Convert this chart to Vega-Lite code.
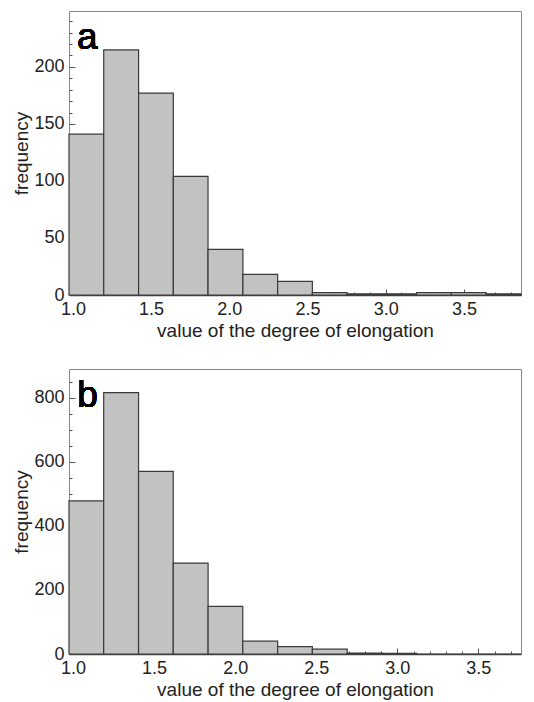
{
  "$schema": "https://vega.github.io/schema/vega-lite/v6.json",
  "padding": {"left": 12, "top": 10, "right": 5, "bottom": 5},
  "background": "white",
  "data": {"values": [
    {"panel": "a", "start": 0.975, "end": 1.197, "count": 141},
    {"panel": "a", "start": 1.197, "end": 1.420, "count": 215},
    {"panel": "a", "start": 1.420, "end": 1.642, "count": 177},
    {"panel": "a", "start": 1.642, "end": 1.864, "count": 104},
    {"panel": "a", "start": 1.864, "end": 2.087, "count": 40},
    {"panel": "a", "start": 2.087, "end": 2.309, "count": 18},
    {"panel": "a", "start": 2.309, "end": 2.531, "count": 12},
    {"panel": "a", "start": 2.531, "end": 2.753, "count": 2},
    {"panel": "a", "start": 2.753, "end": 2.976, "count": 1},
    {"panel": "a", "start": 2.976, "end": 3.198, "count": 1},
    {"panel": "a", "start": 3.198, "end": 3.420, "count": 2},
    {"panel": "a", "start": 3.420, "end": 3.642, "count": 2},
    {"panel": "a", "start": 3.642, "end": 3.865, "count": 1},
    {"panel": "b", "start": 0.975, "end": 1.189, "count": 478},
    {"panel": "b", "start": 1.189, "end": 1.404, "count": 816},
    {"panel": "b", "start": 1.404, "end": 1.618, "count": 570},
    {"panel": "b", "start": 1.618, "end": 1.833, "count": 284},
    {"panel": "b", "start": 1.833, "end": 2.047, "count": 149},
    {"panel": "b", "start": 2.047, "end": 2.262, "count": 40},
    {"panel": "b", "start": 2.262, "end": 2.476, "count": 23},
    {"panel": "b", "start": 2.476, "end": 2.691, "count": 15},
    {"panel": "b", "start": 2.691, "end": 2.905, "count": 3},
    {"panel": "b", "start": 2.905, "end": 3.120, "count": 2},
    {"panel": "b", "start": 3.120, "end": 3.334, "count": 0},
    {"panel": "b", "start": 3.334, "end": 3.549, "count": 0},
    {"panel": "b", "start": 3.549, "end": 3.763, "count": 0}
  ]},
  "config": {
    "view": {"stroke": "#888888", "strokeWidth": 1},
    "font": "Liberation Sans",
    "axis": {
      "grid": false,
      "zindex": 1,
      "labelFont": "Liberation Sans",
      "labelFontSize": 18,
      "labelColor": "#222222",
      "titleFont": "Liberation Sans",
      "titleFontSize": 19,
      "titleFontWeight": "normal",
      "titleColor": "#222222",
      "tickSize": -6,
      "tickColor": "#555555",
      "domainColor": "#444444"
    },
    "concat": {"spacing": 27}
  },
  "vconcat": [
    {
      "width": 452,
      "height": 284,
      "transform": [{"filter": "datum.panel === 'a'"}],
      "resolve": {"axis": {"x": "independent", "y": "independent"}},
      "layer": [
        {
          "mark": {"type": "bar", "fill": "#c2c2c2", "stroke": "#3a3a3a", "strokeWidth": 1.2},
          "encoding": {
            "x": {"field": "start", "type": "quantitative",
                  "scale": {"domain": [0.975, 3.865], "nice": false, "zero": false},
                  "axis": {"values": [1, 1.5, 2, 2.5, 3, 3.5], "format": ".1f", "title": "value of the degree of elongation", "labelPadding": 11, "titlePadding": 3, "domainWidth": 1.5}},
            "x2": {"field": "end"},
            "y": {"field": "count", "type": "quantitative",
                  "scale": {"domain": [0, 249], "nice": false},
                  "axis": {"values": [0, 50, 100, 150, 200], "title": "frequency", "labelPadding": 11, "titlePadding": 2, "domain": false}},
            "y2": {"datum": 0}
          }
        },
        {
          "mark": {"type": "point", "opacity": 0},
          "encoding": {
            "x": {"datum": 1.0, "type": "quantitative",
                  "axis": {"orient": "bottom", "values": [1.1, 1.2, 1.3, 1.4, 1.6, 1.7, 1.8, 1.9, 2.1, 2.2, 2.3, 2.4, 2.6, 2.7, 2.8, 2.9, 3.1, 3.2, 3.3, 3.4, 3.6, 3.7, 3.8], "labels": false, "domain": false, "title": null, "tickSize": -3}},
            "y": {"datum": 0, "type": "quantitative",
                  "axis": {"orient": "left", "values": [10, 20, 30, 40, 60, 70, 80, 90, 110, 120, 130, 140, 160, 170, 180, 190, 210, 220, 230, 240], "labels": false, "domain": false, "title": null, "tickSize": -3}}
          }
        },
        {
          "mark": {"type": "text", "align": "left", "baseline": "alphabetic", "fontSize": 37, "font": "Liberation Sans", "color": "#000000"},
          "encoding": {
            "x": {"datum": 1.026, "type": "quantitative", "axis": null},
            "y": {"datum": 216, "type": "quantitative", "axis": null},
            "text": {"value": "a"}
          }
        }
      ]
    },
    {
      "width": 452,
      "height": 285,
      "transform": [{"filter": "datum.panel === 'b'"}],
      "resolve": {"axis": {"x": "independent", "y": "independent"}},
      "layer": [
        {
          "mark": {"type": "bar", "fill": "#c2c2c2", "stroke": "#3a3a3a", "strokeWidth": 1.2},
          "encoding": {
            "x": {"field": "start", "type": "quantitative",
                  "scale": {"domain": [0.975, 3.763], "nice": false, "zero": false},
                  "axis": {"values": [1, 1.5, 2, 2.5, 3, 3.5], "format": ".1f", "title": "value of the degree of elongation", "labelPadding": 11, "titlePadding": 3, "domainWidth": 1.5}},
            "x2": {"field": "end"},
            "y": {"field": "count", "type": "quantitative",
                  "scale": {"domain": [0, 890], "nice": false},
                  "axis": {"values": [0, 200, 400, 600, 800], "title": "frequency", "labelPadding": 11, "titlePadding": 2, "domain": false}},
            "y2": {"datum": 0}
          }
        },
        {
          "mark": {"type": "point", "opacity": 0},
          "encoding": {
            "x": {"datum": 1.0, "type": "quantitative",
                  "axis": {"orient": "bottom", "values": [1.1, 1.2, 1.3, 1.4, 1.6, 1.7, 1.8, 1.9, 2.1, 2.2, 2.3, 2.4, 2.6, 2.7, 2.8, 2.9, 3.1, 3.2, 3.3, 3.4, 3.6, 3.7], "labels": false, "domain": false, "title": null, "tickSize": -3}},
            "y": {"datum": 0, "type": "quantitative",
                  "axis": {"orient": "left", "values": [50, 100, 150, 250, 300, 350, 450, 500, 550, 650, 700, 750, 850], "labels": false, "domain": false, "title": null, "tickSize": -3}}
          }
        },
        {
          "mark": {"type": "text", "align": "left", "baseline": "alphabetic", "fontSize": 37, "font": "Liberation Sans", "color": "#000000"},
          "encoding": {
            "x": {"datum": 1.026, "type": "quantitative", "axis": null},
            "y": {"datum": 771, "type": "quantitative", "axis": null},
            "text": {"value": "b"}
          }
        }
      ]
    }
  ]
}
